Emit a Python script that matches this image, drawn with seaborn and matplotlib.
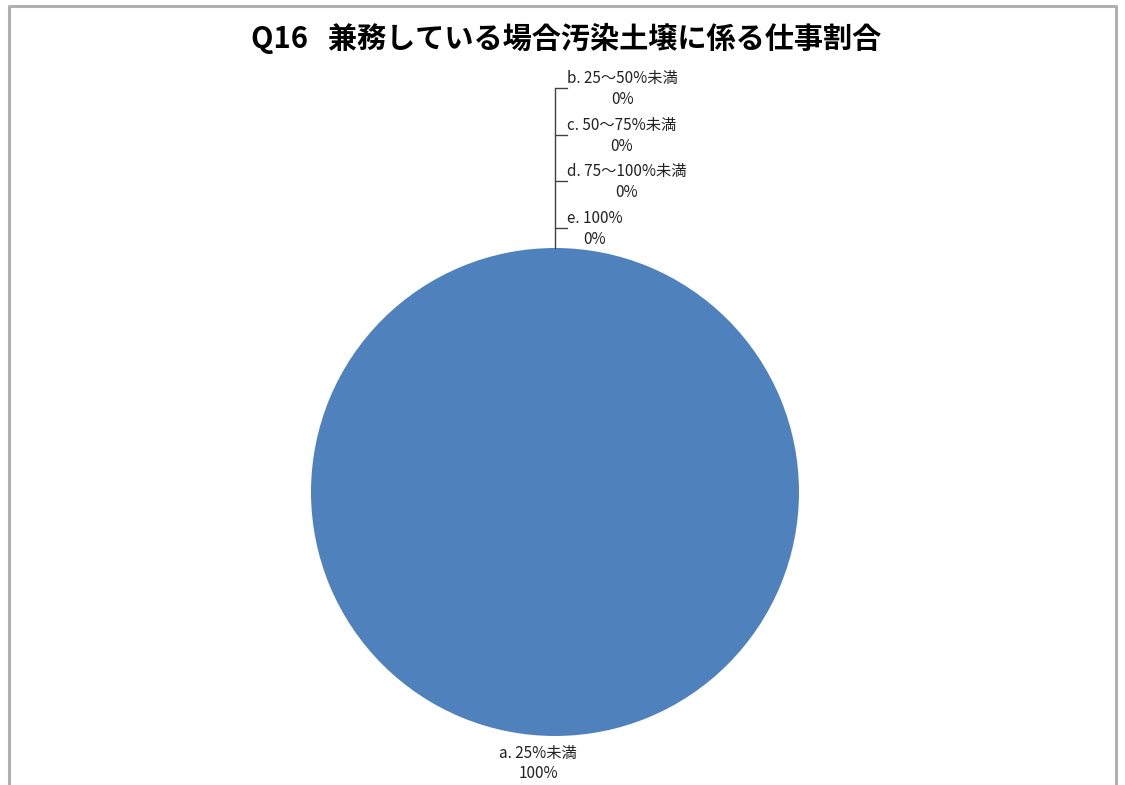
import seaborn as sns
import matplotlib.pyplot as plt
import numpy as np

sns.set_theme(style="white")
plt.rcParams['font.family'] = ['Noto Sans CJK JP', 'DejaVu Sans']

title = "Q16   兼務している場合汚染土壌に係る仕事割合"
categories = ["a. 25%未満", "b. 25～50%未満", "c. 50～75%未満", "d. 75～100%未満", "e. 100%"]
values = [100, 0, 0, 0, 0]
pie_color = "#4F81BD"

W, H = 1125, 785
fig = plt.figure(figsize=(W / 100, H / 100), dpi=100)
ax = fig.add_axes([0, 0, 1, 1])

cx, cy, r = 555, H - 492, 244
wedges, _ = ax.pie(values, colors=[pie_color] * len(values), startangle=90, counterclock=False,
                   center=(cx, cy), radius=r, wedgeprops=dict(linewidth=0))
ax.set_xlim(0, W)
ax.set_ylim(0, H)
ax.set_aspect('auto')
ax.axis('off')

total = sum(values)
pcts = [f"{v / total * 100:.0f}%" for v in values]
fs = 11

# label for the big slice (bottom)
w0 = wedges[0]
mid = np.deg2rad((w0.theta1 + w0.theta2) / 2)
ax.text(cx + (r + 9) * np.cos(mid) - 17, cy + (r + 9) * np.sin(mid),
        f"{categories[0]}\n{pcts[0]}", ha='center', va='top', fontsize=fs,
        linespacing=1.2, multialignment='center', color='#222222')

# zero slices stacked above the pie with leader lines
w1 = wedges[1]
ang = np.deg2rad(w1.theta1)
ax_x, ax_y = cx + r * np.cos(ang), cy + r * np.sin(ang)
tick_y = [H - 88, H - 135, H - 181, H - 228]
ax.plot([ax_x, ax_x], [ax_y, tick_y[0]], color='#404040', lw=1)
for i, ty in enumerate(tick_y):
    ax.plot([ax_x, ax_x + 12], [ty, ty], color='#404040', lw=1)
    ax.text(ax_x + 12, ty + 18, f"{categories[i + 1]}\n{pcts[i + 1]}", ha='left', va='top',
            multialignment='center', fontsize=fs, linespacing=1.3, color='#222222')

ax.text(566, H - 38, title, ha='center', va='center', fontsize=21, fontweight='bold', color='black')

# chart area border
ax.plot([9, 9, 1116, 1116], [-5, H - 6, H - 6, -5], color='#b0b0b0', lw=2.2, clip_on=False)

fig.savefig("out.png", dpi=100)
